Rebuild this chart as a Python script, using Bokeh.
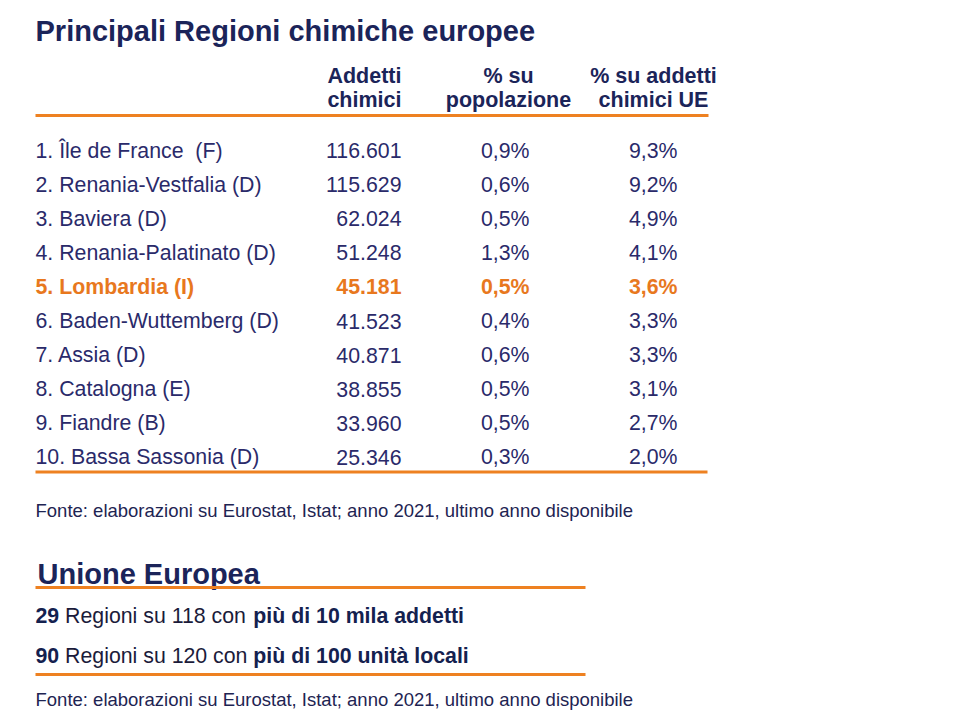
from bokeh.plotting import figure
from bokeh.models import Range1d
from bokeh.core.properties import value
from bokeh.embed import file_html
from bokeh.resources import INLINE

# ---------------- data ----------------
title = "Principali Regioni chimiche europee"
col_headers = [["Addetti", "chimici"], ["% su", "popolazione"], ["% su addetti", "chimici UE"]]
regions = ["Île de France\u00a0 (F)", "Renania-Vestfalia (D)", "Baviera (D)", "Renania-Palatinato (D)",
           "Lombardia (I)", "Baden-Wuttemberg (D)", "Assia (D)", "Catalogna (E)", "Fiandre (B)",
           "Bassa Sassonia (D)"]
addetti = [116601, 115629, 62024, 51248, 45181, 41523, 40871, 38855, 33960, 25346]
pct_popolazione = [0.9, 0.6, 0.5, 1.3, 0.5, 0.4, 0.6, 0.5, 0.5, 0.3]
pct_ue = [9.3, 9.2, 4.9, 4.1, 3.6, 3.3, 3.3, 3.1, 2.7, 2.0]
highlight = "Lombardia (I)"
source_note = "Fonte: elaborazioni su Eurostat, Istat; anno 2021, ultimo anno disponibile"
eu_title = "Unione Europea"
# each fact line: word segments (text, bold?), joined by single spaces
eu_facts = [
    [("29", True), ("Regioni su 118 con", False), ("più di 10 mila addetti", True)],
    [("90", True), ("Regioni su 120 con", False), ("più di 100 unità locali", True)],
]

# ---------------- style ----------------
NAVY = "#1B2459"
ROW = "#2A2A6A"
ORANGE = "#E8781E"
LINE_OR = "#EE8121"
FONT = value("Liberation Sans")

# Arial / Liberation Sans advance widths (per 1000 em) for segment placement
W_REG = {" ": 278, "R": 722, "e": 556, "g": 556, "i": 222, "o": 556, "n": 556, "s": 500,
         "u": 556, "c": 500}
W_BOLD = {" ": 278, "p": 611, "i": 278, "ù": 611, "d": 611, "m": 889, "l": 278, "a": 556,
          "e": 556, "t": 333, "u": 611, "n": 611, "à": 556, "o": 611, "c": 556}


def text_width(s, bold, size):
    table = W_BOLD if bold else W_REG
    return sum(556 if ch.isdigit() else table.get(ch, 556) for ch in s) * size / 1000.0


p = figure(width=944, height=712, output_backend="svg", toolbar_location=None,
           x_range=Range1d(0, 944), y_range=Range1d(712, 0),
           x_axis_location=None, y_axis_location=None, min_border=0)
p.grid.visible = False
p.outline_line_color = None
p.background_fill_color = "white"

LEFT = 35

# title
p.text(x=[LEFT], y=[30], text=[title], text_font=FONT, text_font_size="29px",
       text_font_style="bold", text_color=NAVY, text_baseline="alphabetic", text_align="left")

# headers
hx = [401, 508, 653]
halign = ["right", "center", "center"]
for j, lines in enumerate(col_headers):
    for k, t in enumerate(lines):
        p.text(x=[hx[j]], y=[75.5 + 23.5 * k], text=[t], text_font=FONT, text_font_size="21.5px",
               text_font_style="bold", text_color=NAVY, text_baseline="alphabetic",
               text_align=halign[j])

# rules
p.segment(x0=[LEFT, LEFT], y0=[115, 471.5], x1=[708, 707], y1=[115, 471.5],
          line_color=LINE_OR, line_width=3)

# rows
row0, step = 150, 34.1
ys = [row0 + i * step for i in range(len(regions))]
labels = [f"{i + 1}. {r}" for i, r in enumerate(regions)]
fmt_n = [f"{v:,}".replace(",", ".") for v in addetti]
fmt_p = [f"{v:.1f}%".replace(".", ",") for v in pct_popolazione]
fmt_u = [f"{v:.1f}%".replace(".", ",") for v in pct_ue]
colors = [ORANGE if r == highlight else ROW for r in regions]
styles = ["bold" if r == highlight else "normal" for r in regions]

cols = [(LEFT, labels, "left"), (401, fmt_n, "right"), (529, fmt_p, "right"), (677, fmt_u, "right")]
for cx, texts, al in cols:
    p.text(x=[cx] * len(texts), y=ys, text=texts, text_font=FONT, text_font_size="21.3px",
           text_font_style=styles, text_color=colors, text_baseline="alphabetic", text_align=al)

# source notes
p.text(x=[LEFT], y=[510], text=[source_note], text_font=FONT,
       text_font_size="18.5px", text_color="#1E2452", text_baseline="alphabetic", text_align="left")
p.text(x=[LEFT], y=[699], text=[source_note], text_font=FONT,
       text_font_size="18.5px", text_color="#1E2452", text_baseline="alphabetic", text_align="left")

# EU section
p.text(x=[LEFT + 2], y=[573], text=[eu_title], text_font=FONT, text_font_size="29px",
       text_font_style="bold", text_color=NAVY, text_baseline="alphabetic", text_align="left")
p.segment(x0=[LEFT, LEFT], y0=[587, 674], x1=[585, 585], y1=[587, 674],
          line_color=LINE_OR, line_width=3)

FACT_SIZE = 21.3
fact_y = [615, 655]
for fy, segs in zip(fact_y, eu_facts):
    x = LEFT
    for s, b in segs:
        p.text(x=[x], y=[fy], text=[s], text_font=FONT, text_font_size=f"{FACT_SIZE}px",
               text_font_style="bold" if b else "normal",
               text_color="#14214F" if b else "#1B1B3A",
               text_baseline="alphabetic", text_align="left")
        x += text_width(s, b, FACT_SIZE) + text_width(" ", False, FACT_SIZE)

open("out.html", "w").write(file_html(p, INLINE))
